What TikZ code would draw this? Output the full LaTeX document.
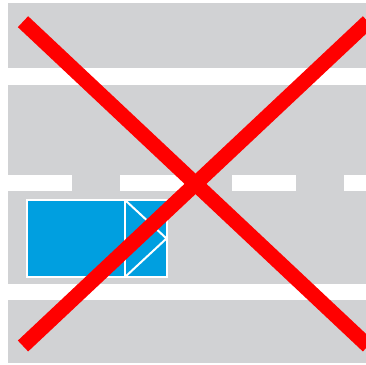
\documentclass[tikz,border=0pt]{standalone}
\definecolor{road}{HTML}{D1D2D4}
\definecolor{truck}{HTML}{009FE0}
\definecolor{cross}{HTML}{FF0000}
\tikzset{
  marking/.style={fill=white},
  truckbody/.style={fill=truck, draw=white, line width=2pt},
  truckline/.style={draw=white, line width=2pt},
  crossline/.style={draw=cross, line width=15pt}
}
\begin{document}
\begin{tikzpicture}[x=1pt,y=-1pt]
\useasboundingbox (0,0) rectangle (366,364);
\clip (0,0) rectangle (366,364);
% road surface
\fill[road] (8,2.7) rectangle (366,363.3);
% solid edge lines
\fill[marking] (8,68.3) rectangle (366,85);
\fill[marking] (8,284.3) rectangle (366,300);
% dashed centre line
\foreach \x in {8,120,232,344} {
  \fill[marking] (\x,175) rectangle ({min(\x+64,366)},190.7);
}
% vehicle
\draw[truckbody] (27,200) rectangle (166.5,277);
\coordinate (vt) at (125,200);
\coordinate (vb) at (125,277);
\coordinate (vp) at (166.5,238.5);
\draw[truckline] (vt) -- (vb);
\draw[truckline, line join=miter] (vt) -- (vp) -- (vb);
% red cross
\coordinate (c1) at (23,21.7);
\coordinate (c2) at (368,346);
\coordinate (c3) at (23,346);
\coordinate (c4) at (368,21.7);
\draw[crossline] (c1) -- (c2);
\draw[crossline] (c3) -- (c4);
\end{tikzpicture}
\end{document}
